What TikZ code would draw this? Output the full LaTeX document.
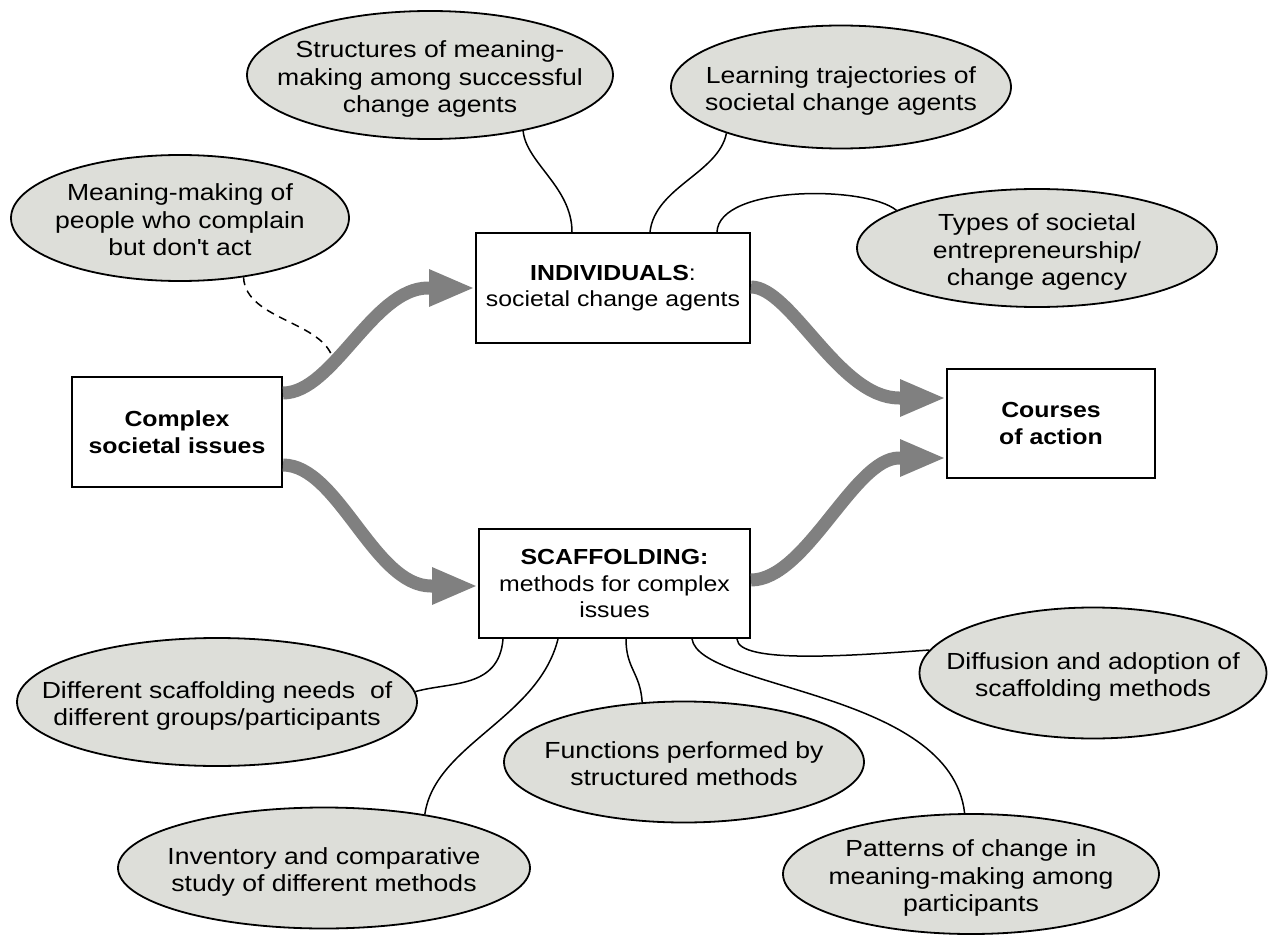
\documentclass[tikz,border=0pt]{standalone}
\usepackage{fontspec}
\setmainfont[FakeStretch=1.14]{Liberation Sans}
\usetikzlibrary{shapes.geometric,arrows.meta}
\definecolor{ovalfill}{RGB}{221,222,217}
\definecolor{flowgray}{RGB}{128,128,128}
\newcommand\ovaltext[1]{\smash{\makebox[0pt]{\raisebox{-0.47em}{\begin{tabular}{@{}c@{}}#1\end{tabular}}}}}

\begin{document}
\begin{tikzpicture}[x=1pt,y=-1pt,
    box/.style={draw,line width=2pt,rectangle,align=center,inner sep=0pt,
      font=\fontsize{21.8}{26.5}\selectfont},
    oval/.style={draw,line width=1.8pt,ellipse,fill=ovalfill,inner sep=0pt,
      font=\fontsize{23.3}{27.5}\selectfont},
    flow/.style={draw=flowgray,line width=13pt,-{Triangle[length=46pt,width=34pt]}},
    link/.style={draw,line width=1.5pt},
    hint/.style={link,dash pattern=on 8pt off 6pt}]
   \useasboundingbox (0,0) rectangle (1272,936);
   % main boxes
   \node[box,minimum width=210pt,minimum height=110pt] (complex) at (177,432)
        {\textbf{Complex}\\\textbf{societal issues}};
   \node[box,minimum width=274pt,minimum height=110pt] (indiv) at (613,288)
        {\textbf{INDIVIDUALS}:\\societal change agents};
   \node[box,minimum width=271pt,minimum height=109pt] (scaff) at (614.5,583.5)
        {\textbf{SCAFFOLDING:}\\methods for complex\\issues};
   \node[box,minimum width=208pt,minimum height=109pt] (courses) at (1051,423.5)
        {\textbf{Courses}\\\textbf{of action}};
   % research themes
   \node[oval,minimum width=366pt,minimum height=128pt] (struct) at (430,75)
        {\ovaltext{Structures of meaning-\\making among successful\\change agents}};
   \node[oval,minimum width=340pt,minimum height=123pt] (learn) at (841,87)
        {\ovaltext{Learning trajectories of\\societal change agents}};
   \node[oval,minimum width=360pt,minimum height=118pt] (types) at (1037,248)
        {\ovaltext{Types of societal\\entrepreneurship/\\change agency}};
   \node[oval,minimum width=338pt,minimum height=126pt] (complain) at (180,218)
        {\ovaltext{Meaning-making of\\people who complain\\but don\textquotesingle t act}};
   \node[oval,minimum width=400pt,minimum height=128pt] (needs) at (217,702)
        {\ovaltext{Different scaffolding needs\ \ of\\different groups/participants}};
   \node[oval,minimum width=412pt,minimum height=121pt] (inventory) at (324,868)
        {\ovaltext{Inventory and comparative\\study of different methods}};
   \node[oval,minimum width=360pt,minimum height=121pt] (functions) at (684,762)
        {\ovaltext{Functions performed by\\structured methods}};
   \node[oval,minimum width=347pt,minimum height=131pt] (diffusion) at (1093,673)
        {\ovaltext{Diffusion and adoption of\\scaffolding methods}};
   \node[oval,minimum width=376pt,minimum height=120pt] (patterns) at (971,874)
        {\ovaltext{Patterns of change in\\meaning-making among\\participants}};
   \coordinate (dashend) at (334,366);
   % thin links
   \draw[link] (struct.-31) .. controls +(3,32) and +(0,-45) .. ([xshift=-41pt]indiv.north);
   \draw[link] (learn.-158) .. controls +(-8,40) and +(5,-45) .. ([xshift=37pt]indiv.north);
   \draw[link] ([xshift=104pt]indiv.north) .. controls +(2,-47) and +(-30,-25) .. (types.165);
   \draw[hint] (complain.-43) .. controls +(2,45) and +(-2,-45) .. (dashend);
   \draw[link] ([xshift=-111.5pt]scaff.south) .. controls +(-4,50) and +(35,-10) .. (needs.3);
   \draw[link] ([xshift=-56.5pt]scaff.south) .. controls +(-20,80) and +(10,-70) .. (inventory.28);
   \draw[link] ([xshift=11.5pt]scaff.south) .. controls +(0,30) and +(-2,-30) .. (functions.125);
   \draw[link] ([xshift=77.5pt]scaff.south) .. controls +(8,51) and +(-14,-123) .. (patterns.96);
   \draw[link] ([xshift=122.5pt]scaff.south) .. controls +(1,26) and +(-70,5) .. (diffusion.172);
   % thick flows
   \draw[flow] ([yshift=39pt]complex.east) .. controls +(50,0) and +(-55,0)
        .. ([xshift=-47pt]indiv.west) -- (indiv.west);
   \draw[flow] ([yshift=-33pt]complex.east) .. controls +(55,0) and +(-57,0)
        .. ([xshift=-47pt,yshift=-2.5pt]scaff.west) -- ([yshift=-2.5pt]scaff.west);
   \draw[flow] ([yshift=1pt]indiv.east) .. controls +(40,0) and +(-60,0)
        .. ([xshift=-47pt,yshift=25.5pt]courses.west) -- ([yshift=25.5pt]courses.west);
   \draw[flow] ([yshift=3.5pt]scaff.east) .. controls +(55,0) and +(-45,0)
        .. ([xshift=-47pt,yshift=-34.5pt]courses.west) -- ([yshift=-34.5pt]courses.west);
\end{tikzpicture}
\end{document}
